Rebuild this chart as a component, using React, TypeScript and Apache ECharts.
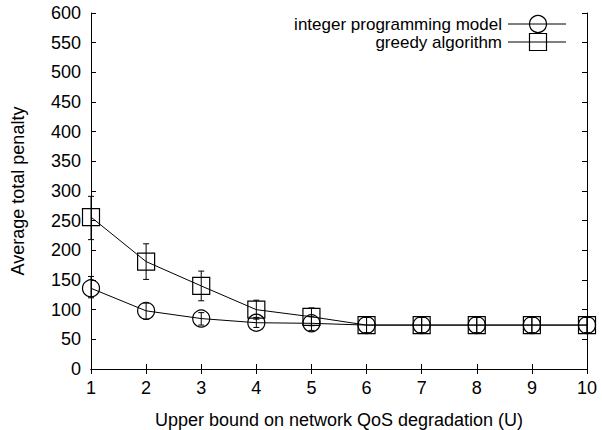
import React, { useEffect, useRef } from "react";
import * as echarts from "echarts";

const xValues = [1, 2, 3, 4, 5, 6, 7, 8, 9, 10];
const ipMean = [136, 98, 85, 78, 77, 74, 74, 74, 74, 74];
const ipLow = [120, 84, 74, 70, 65, 61, 61, 61, 61, 61];
const ipHigh = [156, 111, 95, 87, 88, 87, 87, 87, 87, 87];
const grMean = [256, 181, 140, 100, 88, 74, 74, 74, 74, 74];
const grLow = [218, 151, 115, 84, 73, 61, 61, 61, 61, 61];
const grHigh = [291, 211, 165, 116, 103, 87, 87, 87, 87, 87];
const seriesNames = ["integer programming model", "greedy algorithm"];
const xTitle = "Upper bound on network QoS degradation (U)";
const yTitle = "Average total penalty";

const FONT = "'Liberation Sans', Arial, Helvetica, sans-serif";
const FS = 18;

function errorSeries(name: string, low: number[], high: number[]) {
  return {
    type: "custom",
    name: name + " err",
    data: xValues.map((x, i) => [x, low[i], high[i]]),
    encode: { x: 0, y: [1, 2] },
    silent: true,
    z: 3,
    renderItem: (params: any, api: any) => {
      const x = api.value(0);
      const lo = api.coord([x, api.value(1)]);
      const hi = api.coord([x, api.value(2)]);
      const c = 3;
      const style = { stroke: "#000", lineWidth: 1 };
      return {
        type: "group",
        children: [
          { type: "line", shape: { x1: lo[0], y1: lo[1], x2: hi[0], y2: hi[1] }, style },
          { type: "line", shape: { x1: lo[0] - c, y1: lo[1], x2: lo[0] + c, y2: lo[1] }, style },
          { type: "line", shape: { x1: hi[0] - c, y1: hi[1], x2: hi[0] + c, y2: hi[1] }, style },
        ],
      };
    },
  };
}

function lineSeries(name: string, mean: number[], symbol: string) {
  return {
    type: "line",
    name,
    data: xValues.map((x, i) => [x, mean[i]]),
    symbol,
    symbolSize: 17,
    showAllSymbol: true,
    lineStyle: { color: "#000", width: 1 },
    itemStyle: { color: "rgba(0,0,0,0)", borderColor: "#000", borderWidth: 1.2 },
    emphasis: { disabled: true },
    z: 4,
  };
}

export default function App() {
  const ref = useRef<HTMLDivElement>(null);
  useEffect(() => {
    document.body.style.margin = "0";
    if (!ref.current) return;
    const chart = echarts.init(ref.current, undefined, { renderer: "svg" });
    const axisLine = { show: true, lineStyle: { color: "#000", width: 1 } };
    const axisTick = { show: true, inside: true, length: 5, lineStyle: { color: "#000", width: 1 } };
    const label = { color: "#000", fontSize: FS, fontFamily: FONT };
    const lx = 502;
    const sx1 = 508;
    const sx2 = 566;
    const sc = 538;
    const r1 = 24;
    const r2 = 42;
    const LFS = 17;
    const legendText = (text: string, y: number) => ({
      type: "text",
      x: lx,
      y,
      style: {
        text,
        fill: "#000",
        fontSize: LFS,
        fontFamily: FONT,
        lineHeight: 17,
        align: "right",
        verticalAlign: "middle",
      },
    });
    chart.setOption({
      animation: false,
      backgroundColor: "#fff",
      textStyle: { fontFamily: FONT },
      grid: { left: 91, right: 15, top: 13, bottom: 61, outerBoundsMode: "none", containLabel: false },
      xAxis: [
        {
          type: "value",
          position: "bottom",
          min: 1,
          max: 10,
          interval: 1,
          axisLine,
          axisTick,
          splitLine: { show: false },
          axisLabel: { ...label, margin: 10 },
          name: xTitle,
          nameLocation: "middle",
          nameGap: 42,
          nameTextStyle: { ...label },
        },
        {
          type: "value",
          position: "top",
          min: 1,
          max: 10,
          interval: 1,
          axisLine,
          axisTick,
          splitLine: { show: false },
          axisLabel: { show: false },
        },
      ],
      yAxis: [
        {
          type: "value",
          position: "left",
          min: 0,
          max: 600,
          interval: 50,
          axisLine,
          axisTick,
          splitLine: { show: false },
          axisLabel: { ...label, margin: 10 },
          name: yTitle,
          nameLocation: "middle",
          nameGap: 64,
          nameTextStyle: { ...label },
        },
        {
          type: "value",
          position: "right",
          min: 0,
          max: 600,
          interval: 50,
          axisLine,
          axisTick,
          splitLine: { show: false },
          axisLabel: { show: false },
        },
      ],
      series: [
        errorSeries(seriesNames[0], ipLow, ipHigh),
        errorSeries(seriesNames[1], grLow, grHigh),
        lineSeries(seriesNames[0], ipMean, "circle"),
        lineSeries(seriesNames[1], grMean, "rect"),
      ],
      graphic: [
        legendText(seriesNames[0], r1),
        legendText(seriesNames[1], r2),
        { type: "line", shape: { x1: sx1, y1: r1, x2: sx2, y2: r1 }, style: { stroke: "#000", lineWidth: 1 } },
        { type: "line", shape: { x1: sx1, y1: r2, x2: sx2, y2: r2 }, style: { stroke: "#000", lineWidth: 1 } },
        { type: "circle", shape: { cx: sc, cy: r1, r: 8.5 }, style: { fill: "rgba(0,0,0,0)", stroke: "#000", lineWidth: 1.2 } },
        { type: "rect", shape: { x: sc - 8.5, y: r2 - 8.5, width: 17, height: 17 }, style: { fill: "rgba(0,0,0,0)", stroke: "#000", lineWidth: 1.2 } },
      ],
    });
    return () => chart.dispose();
  }, []);
  return <div ref={ref} style={{ width: 602, height: 430 }} />;
}
